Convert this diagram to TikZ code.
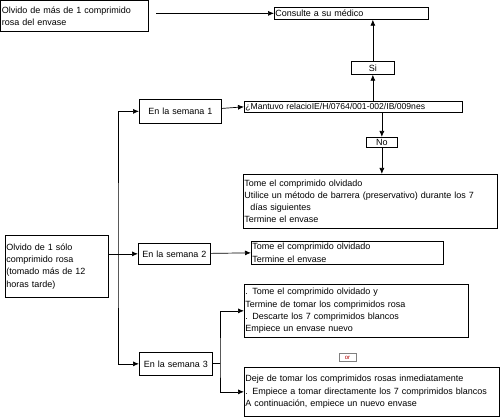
\documentclass[tikz,border=0pt]{standalone}
\usepackage{fontspec}
\setmainfont{Liberation Sans}
\usetikzlibrary{arrows.meta, positioning}

\begin{document}
\begin{tikzpicture}[
    x=1pt, y=1pt,
    >={Latex[length=6pt,width=5pt]},
    line width=0.7pt,
    box/.style={draw, rectangle, anchor=north west, align=left,
        inner xsep=1pt, inner ysep=0pt,
        font=\fontsize{9}{12.2}\selectfont},
    midbox/.style={box, align=center},
    every node/.style={font=\fontsize{9}{12.2}\selectfont}
]
\useasboundingbox[fill=white] (0,0) rectangle (500,418);

% top row
\node[box, text width=145pt, minimum height=31pt] (olvidoMas) at (0.5,417.5)
    {Olvido de más de 1 comprimido\\rosa del envase};
\node[box, text width=152pt, minimum height=12pt] (consulte) at (274,411)
    {Consulte a su médico};
\node[midbox, text width=41pt, minimum height=13pt] (si) at (351,357) {Si};

% week 1
\node[midbox, text width=80pt, minimum height=24pt] (semana1) at (139,319)
    {En la semana 1};
\node[box, text width=216pt, minimum height=11pt, font=\fontsize{8.6}{12}\selectfont] (mantuvo) at (244,317)
    {¿Mantuvo relacioIE/H/0764/001-002/IB/009nes};
\node[midbox, text width=29pt, minimum height=10pt] (no) at (366,281) {No};
\node[box, text width=252pt, minimum height=54pt] (tomeUno) at (243,244)
    {Tome el comprimido olvidado\\
     Utilice un método de barrera (preservativo) durante los 7\\
     \ \ días siguientes\\
     Termine el envase};

% week 2
\node[box, text width=101pt, minimum height=62pt] (olvidoUno) at (5,183)
    {Olvido de 1 sólo\\comprimido rosa\\(tomado más de 12\\horas tarde)};
\node[midbox, text width=70pt, minimum height=21pt] (semana2) at (138,175)
    {En la semana 2};
\node[box, text width=190pt, minimum height=23pt] (tomeDos) at (251,177)
    {Tome el comprimido olvidado\\Termine el envase};

% week 3
\node[box, text width=222pt, minimum height=53pt] (tomeTres) at (244,134)
    {. Tome el comprimido olvidado y\\
     Termine de tomar los comprimidos rosa\\
     . Descarte los 7 comprimidos blancos\\
     Empiece un envase nuevo};
\node[midbox, text width=71pt, minimum height=23pt] (semana3) at (139,66)
    {En la semana 3};
\node[draw=gray, line width=0.5pt, inner sep=0.5pt, minimum width=17pt, minimum height=8pt,
    font=\fontsize{6}{6}\selectfont, text=red!70!black] (oTro) at (347.5,60.5) {or};
\node[box, text width=253pt, minimum height=49pt] (dejeTres) at (244,51)
    {Deje de tomar los comprimidos rosas inmediatamente\\
     . Empiece a tomar directamente los 7 comprimidos blancos\\
     A continuación, empiece un nuevo envase};

\coordinate (trunk) at (118,165);
\coordinate (branch) at (220,66-11.5);

% connectors
\draw[->, shorten <=8pt] (consulte.west -| olvidoMas.east) -- (consulte.west);
\draw[->] (si) -- (consulte.south -| si);
\draw[->] (si |- mantuvo.north) -- (si);
\draw[->] (semana1) -- (mantuvo.west);
\draw[->] (no |- mantuvo.south) -- (no);
\draw[->] (no) -- (tomeUno.north -| no);
\draw[->] (olvidoUno.east |- semana2) -- (semana2.west);
\draw[<->] (semana1.west) -| (trunk) |- (semana3.west);
\draw[->] (semana2) -- (tomeDos.west);
\draw (semana3) -- (branch);
\draw[<->] (tomeTres.west) -| (branch) |- (dejeTres.west);

\end{tikzpicture}
\end{document}
